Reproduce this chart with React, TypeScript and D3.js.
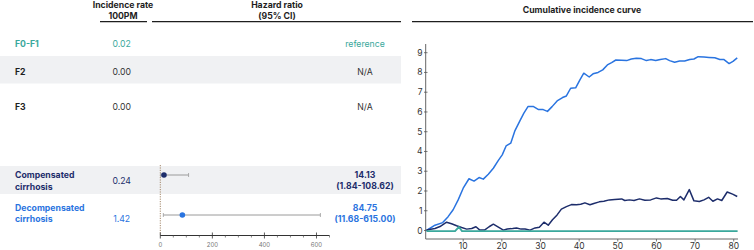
import React from "react";
import * as d3 from "d3";

// ---------- data ----------
const groups = ["F0-F1", "F2", "F3", "Compensated\ncirrhosis", "Decompensated\ncirrhosis"];
const incidence = ["0.02", "0.00", "0.00", "0.24", "1.42"];
const hrLabel = ["reference", "N/A", "N/A", "14.13\n(1.84-108.62)", "84.75\n(11.68-615.00)"];
const hrPoint = [null, null, null, 14.13, 84.75];
const hrLow = [null, null, null, 1.84, 11.68];
const hrHigh = [null, null, null, 108.62, 615.0];
const hrTicks = [0, 200, 400, 600];
const hrMinor = [50, 100, 150, 250, 300, 350, 450, 500, 550, 650];

const curveXTicks = [10, 20, 30, 40, 50, 60, 70, 80];
const curveYTicks = [0, 1, 2, 3, 4, 5, 6, 7, 8, 9];

const decompT = [0.5, 2.7, 4.7, 6.1, 7.4, 8.7, 10, 11.5, 12.8, 14.1, 15.2, 16.5, 17.8, 19.1, 20.1, 21.1, 22.3, 23.4, 24.7, 25.7, 26.8, 28.1, 29.4, 30.7, 31.8, 33, 34.3, 35.7, 36.7, 37.8, 39.1, 40.2, 41.2, 42.6, 43.6, 44.9, 46.1, 47.3, 48.4, 49.5, 51, 52.3, 53.5, 54.8, 56.1, 57.4, 58.5, 59.8, 61, 62.4, 63.4, 64.7, 66, 67.3, 68.6, 69.7, 70.8, 72.3, 73.6, 75.1, 76.4, 77.4, 78.8, 79.8, 80.9];
const decompV = [0, 0.27, 0.4, 0.7, 1.05, 1.55, 2.14, 2.62, 2.5, 2.68, 2.6, 2.85, 3.15, 3.55, 3.83, 4.28, 4.42, 5.06, 5.56, 5.94, 6.28, 6.28, 6.13, 6.12, 6.03, 6.27, 6.56, 6.73, 6.81, 7.2, 7.22, 7.62, 7.96, 7.77, 7.93, 8.0, 8.13, 8.38, 8.5, 8.63, 8.62, 8.6, 8.68, 8.72, 8.7, 8.6, 8.65, 8.6, 8.66, 8.7, 8.6, 8.52, 8.58, 8.58, 8.66, 8.68, 8.8, 8.78, 8.76, 8.74, 8.66, 8.66, 8.45, 8.56, 8.74];

const compT = [0.5, 2.7, 4, 5.7, 7, 8.3, 9.6, 10.9, 12.2, 13.3, 14.3, 15.6, 16.7, 17.8, 19.1, 20.4, 21.4, 22.8, 23.8, 25, 26, 27.3, 28.6, 29.7, 30.9, 32, 33.1, 34.3, 35.4, 36.7, 38, 39.3, 40.4, 41.5, 42.8, 43.8, 45.2, 46.4, 47.8, 49.2, 51, 51.8, 53, 54.2, 55.6, 57, 58.5, 60, 61.1, 62.8, 64.2, 65.2, 66.2, 67.1, 68.5, 69.7, 71.1, 72.3, 73.5, 74.6, 75.8, 76.9, 78.3, 79.7, 80.9];
const compV = [0.03, 0.1, 0.2, 0.42, 0.34, 0.24, 0.15, 0.07, 0.1, 0.19, 0.02, 0.03, 0.19, 0.32, 0.17, 0.02, 0.08, 0.1, 0.13, 0.07, 0.08, 0.02, 0.13, 0.17, 0.42, 0.27, 0.54, 0.79, 1.08, 1.21, 1.31, 1.3, 1.33, 1.4, 1.3, 1.37, 1.45, 1.48, 1.55, 1.57, 1.6, 1.52, 1.55, 1.52, 1.6, 1.53, 1.55, 1.65, 1.6, 1.62, 1.53, 1.53, 1.72, 1.55, 2.07, 1.5, 1.47, 1.55, 1.68, 1.48, 1.6, 1.52, 1.95, 1.84, 1.72];

const f01T = [0.5, 7.9, 8.9, 9.7, 81];
const f01V = [-0.03, -0.03, 0.18, -0.03, -0.03];

// ---------- styles ----------
const TEAL = "#3aa89c";
const NAVY = "#1d2d6b";
const BLUE = "#2a74e0";
const DARK = "#1e1e1e";
const FONT = "Inter, 'Noto Sans', sans-serif";
const FS = 8.7;
const rowColor = [TEAL, DARK, DARK, NAVY, BLUE];
const rowY = [43.5, 71.5, 107, 180.5, 213];
const bands = [[56, 83.5], [166, 194]];

export default function App() {
  const W = 754, H = 250;
  const fx = d3.scaleLinear().domain([0, 650]).range([160.3, 329.5]);
  const cx = d3.scaleLinear().domain([0.3, 81.1]).range([425.7, 738]);
  const cy = d3.scaleLinear().domain([-0.43, 9.44]).range([239, 44]);
  const line = d3.line<[number, number]>().x((d) => cx(d[0])).y((d) => cy(d[1]));
  const pts = (t: number[], v: number[]) => t.map((x, i) => [x, v[i]] as [number, number]);

  const txt = (x: number, y: number, s: string, opts: any = {}) => (
    <text x={x} y={y} fontFamily={FONT} fontSize={opts.size ?? FS} fontWeight={opts.bold ? 700 : 400}
      fill={opts.fill ?? DARK} textAnchor={opts.anchor ?? "middle"}>{s}</text>
  );

  return (
    <svg width={W} height={H} style={{ position: "absolute", left: 0, top: 0, background: "#fff" }}>
      {/* bands */}
      {bands.map((b, i) => (
        <rect key={i} x={0} y={b[0]} width={401} height={b[1] - b[0]} fill="#f0f1f3" />
      ))}
      {/* headers */}
      {txt(123, 8, "Incidence rate", { bold: true })}
      {txt(123, 18.5, "100PM", { bold: true })}
      {txt(277, 8, "Hazard ratio", { bold: true })}
      {txt(277, 18.5, "(95% CI)", { bold: true })}
      {txt(582, 13, "Cumulative incidence curve", { bold: true })}
      <line x1={100} x2={147} y1={21.7} y2={21.7} stroke={DARK} strokeWidth={1.2} />
      <line x1={152} x2={401} y1={21.7} y2={21.7} stroke={DARK} strokeWidth={1.2} />
      <line x1={412} x2={753} y1={21.7} y2={21.7} stroke={DARK} strokeWidth={1.2} />

      {/* rows */}
      {groups.map((g, i) => {
        const lines = g.split("\n");
        const hl = hrLabel[i].split("\n");
        const multi = lines.length > 1;
        const yLab = multi ? rowY[i] - 5.5 : rowY[i];
        return (
          <g key={g}>
            {lines.map((l, k) => (
              <React.Fragment key={k}>{txt(15, yLab + 3.2 + k * 11.3, l, { bold: true, anchor: "start", fill: rowColor[i] })}</React.Fragment>
            ))}
            {txt(121.7, (i === 4 ? 218.7 : rowY[i]) + 3.2, incidence[i], { fill: rowColor[i] === DARK ? "#333" : rowColor[i] })}
            {hl.map((l, k) => (
              <React.Fragment key={k}>{txt(365, (hl.length > 1 ? rowY[i] - 5.3 : rowY[i]) + 3.2 + k * 10.6, l, { bold: i >= 3, fill: rowColor[i] === DARK ? "#333" : rowColor[i] })}</React.Fragment>
            ))}
          </g>
        );
      })}

      {/* forest plot */}
      <line x1={fx(0)} x2={fx(0)} y1={165} y2={235} stroke="#9a7a5a" strokeWidth={0.9} strokeDasharray="1.2,1.2" />
      {hrPoint.map((p, i) => {
        if (p == null) return null;
        const y = i === 3 ? 175 : 215;
        return (
          <g key={i}>
            <line x1={fx(hrLow[i]!)} x2={fx(hrHigh[i]!)} y1={y} y2={y} stroke="#9a9a9a" strokeWidth={1} />
            <line x1={fx(hrLow[i]!)} x2={fx(hrLow[i]!)} y1={y - 2} y2={y + 2} stroke="#9a9a9a" strokeWidth={0.8} />
            <line x1={fx(hrHigh[i]!)} x2={fx(hrHigh[i]!)} y1={y - 2} y2={y + 2} stroke="#9a9a9a" strokeWidth={0.8} />
            <circle cx={fx(p)} cy={y} r={2.8} fill={i === 3 ? NAVY : BLUE} />
          </g>
        );
      })}
      <line x1={fx(0)} x2={fx(650)} y1={235.5} y2={235.5} stroke="#333" strokeWidth={1} />
      {hrTicks.map((t) => (
        <g key={t}>
          <line x1={fx(t)} x2={fx(t)} y1={232.5} y2={238.5} stroke="#333" strokeWidth={0.8} />
          {txt(fx(t), 247, String(t), { size: 6, fill: "#777" })}
        </g>
      ))}
      {hrMinor.map((t) => (
        <line key={t} x1={fx(t)} x2={fx(t)} y1={235.5} y2={237.5} stroke="#555" strokeWidth={0.7} />
      ))}

      {/* cumulative incidence curve */}
      <line x1={425.7} x2={425.7} y1={44} y2={239} stroke="#666" strokeWidth={1} />
      <line x1={425.7} x2={738} y1={239} y2={239} stroke="#666" strokeWidth={1} />
      {curveYTicks.map((t) => (
        <g key={t}>
          <line x1={424} x2={427.5} y1={cy(t)} y2={cy(t)} stroke="#555" strokeWidth={0.8} />
          {txt(422.5, cy(t) + 3, String(t), { size: 8.5, fill: "#333", anchor: "end" })}
        </g>
      ))}
      {curveXTicks.map((t) => (
        <g key={t}>
          <line x1={cx(t)} x2={cx(t)} y1={239} y2={241.5} stroke="#555" strokeWidth={0.8} />
          {txt(cx(t), 249, String(t), { size: 8.5, fill: "#333" })}
        </g>
      ))}
      <path d={line(pts(decompT, decompV))!} fill="none" stroke={BLUE} strokeWidth={1.5} strokeLinejoin="round" />
      <path d={line(pts(compT, compV))!} fill="none" stroke={NAVY} strokeWidth={1.5} strokeLinejoin="round" />
      <path d={line(pts(f01T, f01V))!} fill="none" stroke={TEAL} strokeWidth={1.8} strokeLinejoin="round" />
    </svg>
  );
}
